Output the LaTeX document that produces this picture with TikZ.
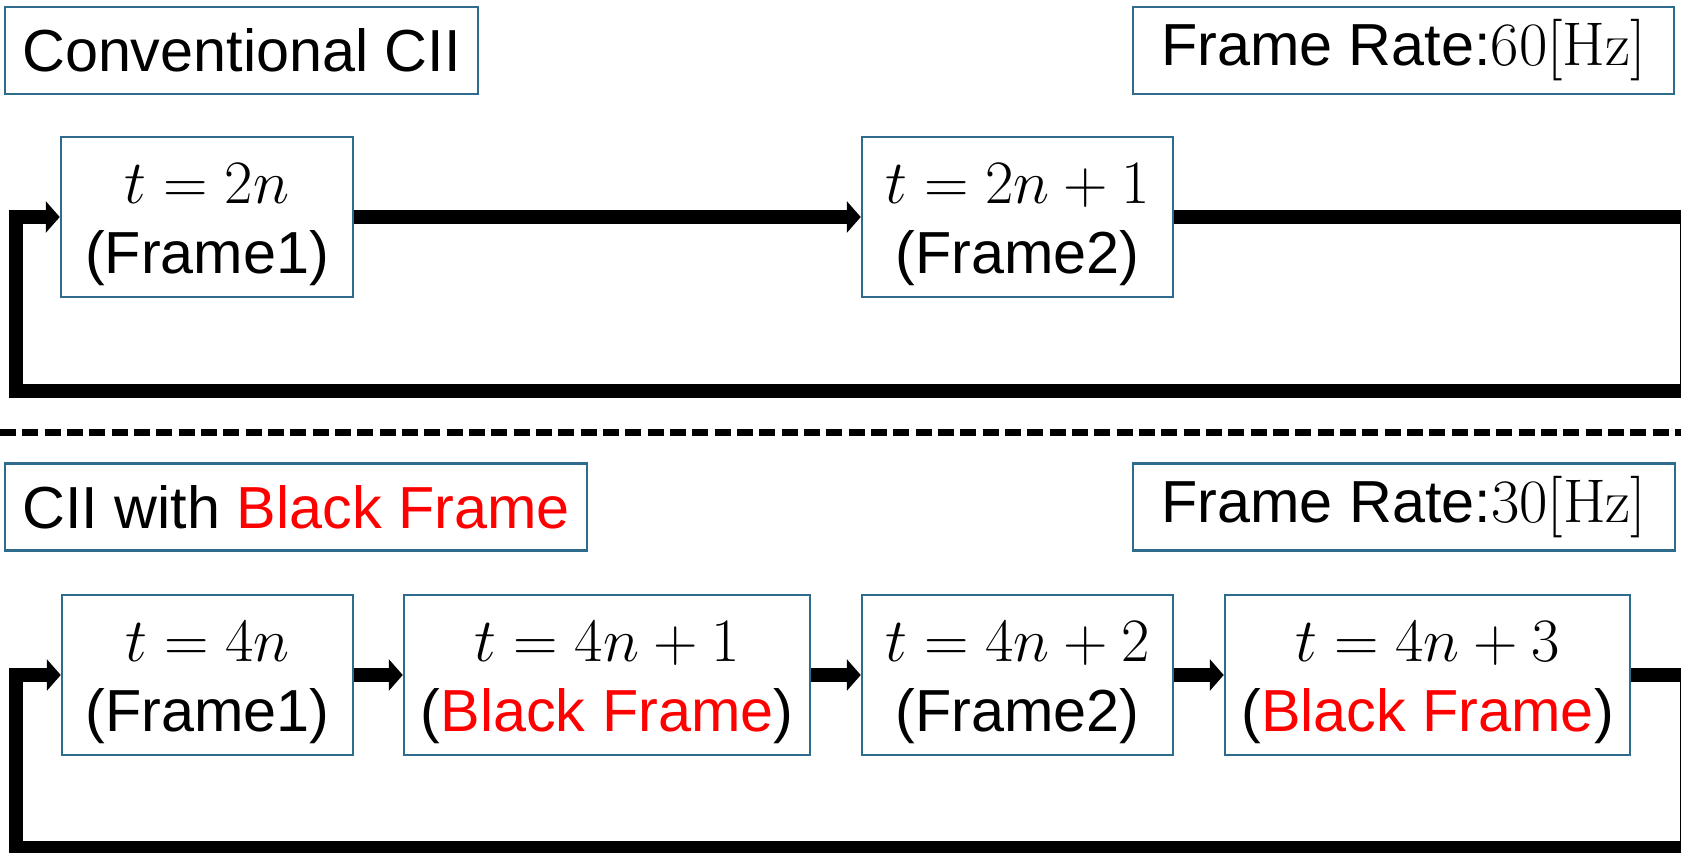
\documentclass[tikz,border=0pt]{standalone}
\usepackage{fix-cm}
\usepackage[no-math]{fontspec}
\setmainfont{Liberation Sans}
\usetikzlibrary{arrows.meta}
\definecolor{boxblue}{RGB}{46,107,140}
\definecolor{bfred}{RGB}{255,0,0}
\newcommand{\bframe}{\textcolor{bfred}{Black Frame}}
\newcommand{\tm}[1]{{\fontsize{18.5}{21}\selectfont$#1$}}

\begin{document}
\begin{tikzpicture}[x=0.3pt,y=-0.3pt,
    framebox/.style={draw=boxblue, line width=0.75pt, align=center, inner sep=0pt,
        minimum height=48pt, text height=37.3pt, text depth=3.7pt,
        font=\fontsize{17.8}{21}\selectfont},
    titlebox/.style={draw=boxblue, line width=0.75pt, inner sep=0pt,
        minimum height=26.2pt, font=\fontsize{17.8}{21}\selectfont},
    flow/.style={line width=4.4pt, -{Triangle[length=4.2pt,width=9.3pt]}},
    sep line/.style={line width=2pt, dash pattern=on 4.8pt off 1.9pt}]
    \useasboundingbox (0,0) rectangle (1681,852);

    % Conventional CII
    \node[titlebox, minimum width=141.9pt] (hdrA) at (241.5,50.5) {Conventional CII};
    \node[titlebox, minimum width=162.3pt] (rateA) at (1403.5,50.5) {Frame Rate:\tm{60[\mathrm{Hz}]}};
    \node[framebox, minimum width=87.6pt] (f1a) at (207,217) {\tm{t=2n}\\(Frame1)};
    \node[framebox, minimum width=93.3pt] (f2a) at (1017.5,217) {\tm{t=2n+1}\\(Frame2)};

    \coordinate (ra1) at (1687,217);
    \coordinate (ra2) at (1687,391);
    \coordinate (la2) at (16,391);
    \coordinate (la1) at (16,217);

    \draw[flow] (f1a.east) -- (f2a.west);
    \draw[flow] (f2a.east) -- (ra1) -- (ra2) -- (la2) -- (la1) -- (f1a.west);

    % separator
    \coordinate (sepL) at (0,432.5);
    \coordinate (sepR) at (1681,432.5);
    \draw[sep line] (sepL) -- (sepR);

    % CII with Black Frame
    \node[titlebox, minimum width=174.6pt] (hdrB) at (296,507) {CII with \bframe};
    \node[titlebox, minimum width=162.6pt] (rateB) at (1404,507) {Frame Rate:\tm{30[\mathrm{Hz}]}};
    \node[framebox, minimum width=87.3pt] (f1b) at (207.5,675) {\tm{t=4n}\\(Frame1)};
    \node[framebox, minimum width=121.8pt] (bf1) at (607,675) {\tm{t=4n+1}\\(\bframe)};
    \node[framebox, minimum width=93.3pt] (f2b) at (1017.5,675) {\tm{t=4n+2}\\(Frame2)};
    \node[framebox, minimum width=121.5pt] (bf2) at (1427.5,675) {\tm{t=4n+3}\\(\bframe)};

    \coordinate (rb1) at (1687,675);
    \coordinate (rb2) at (1687,848);
    \coordinate (lb2) at (16,848);
    \coordinate (lb1) at (16,675);

    \draw[flow] (f1b.east) -- (bf1.west);
    \draw[flow] (bf1.east) -- (f2b.west);
    \draw[flow] (f2b.east) -- (bf2.west);
    \draw[flow] (bf2.east) -- (rb1) -- (rb2) -- (lb2) -- (lb1) -- (f1b.west);
\end{tikzpicture}
\end{document}
